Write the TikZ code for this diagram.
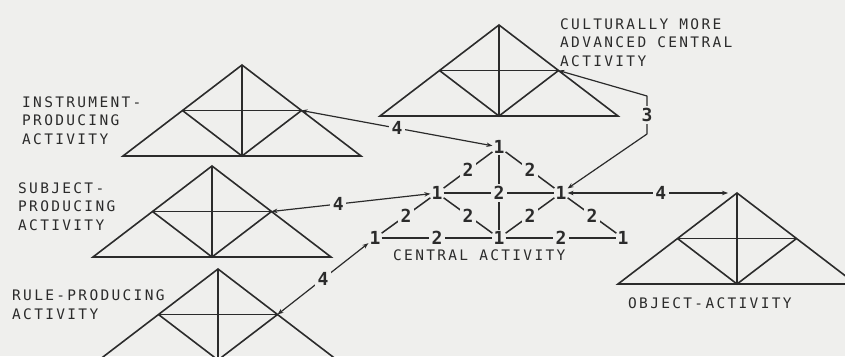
\documentclass[tikz,border=0pt]{standalone}
\usepackage{fontspec}
\usepackage{tikz}
\usetikzlibrary{positioning,arrows.meta,calc}
\definecolor{acbg}{HTML}{EFEFED}
\definecolor{acline}{HTML}{2B2B2B}
\newfontfamily\plotfont[LetterSpace=16]{DejaVu Sans Mono}
\newfontfamily\numfont{DejaVu Sans Mono}

\tikzset{
  activity/.pic={
    \draw[tri] (-119,91) -- (0,0) -- (119,91) -- cycle;
    \draw[tri] (0,0) -- (0,91);
    \draw[tri] (-59.5,45.5) coordinate (-ml) -- (59.5,45.5) coordinate (-mr);
    \draw[tri] (-ml) -- (0,91) -- (-mr);
    \coordinate (-apex) at (0,0);
  }
}

\begin{document}
\begin{tikzpicture}[
  x=1pt, y=-1pt,
  tri/.style={draw=acline, line width=1.6pt, line join=miter},
  edge/.style={draw=acline, line width=1.5pt},
  link/.style={draw=acline, line width=1.2pt, {Stealth[length=6pt,width=4.5pt]}-{Stealth[length=6pt,width=4.5pt]}},
  num/.style={font=\numfont\bfseries\fontsize{18}{18}\selectfont, text=acline, inner sep=1pt},
  lbl/.style={num, fill=acbg, inner sep=2.5pt},
  txt/.style={font=\plotfont\fontsize{14.5}{18.7}\selectfont, text=acline, align=left,
              anchor=base west, inner sep=0pt},
]
  \useasboundingbox (0,0) rectangle (845,356);
  \fill[acbg] (0,0) rectangle (845,356);
  \clip (0,0) rectangle (845,356);

  % ---- surrounding activities ------------------------------------------------
  \pic (ins)  at (242,65)  {activity};
  \pic (sub)  at (212,166) {activity};
  \pic (rule) at (218,269) {activity};
  \pic (cult) at (499,25)  {activity};
  \pic (obj)  at (737,193) {activity};

  % base anchor sits on the last line
  \node[txt] (tins)  at (22,144.5) {INSTRUMENT-\\PRODUCING\\ACTIVITY};
  \node[txt] (tsub)  at (18,230.5) {SUBJECT-\\PRODUCING\\ACTIVITY};
  \node[txt] (trule) at (12,319.5) {RULE-PRODUCING\\ACTIVITY};
  \node[txt] (tcult) at (560,66.5) {CULTURALLY MORE\\ADVANCED CENTRAL\\ACTIVITY};
  \node[txt] (tobj)  at (628,308.5) {OBJECT-ACTIVITY};

  % ---- central activity --------------------------------------------------------
  \node[num] (t)  at (499,147) {1};
  \node[num] (l)  at (437,193) {1};
  \node[num] (r)  at (561,193) {1};
  \node[num] (bl) at (375,238) {1};
  \node[num] (bm) at (499,238) {1};
  \node[num] (br) at (623,238) {1};
  \node[txt] (tcen) at (393,260.5) {CENTRAL ACTIVITY};

  \draw[edge] (t) -- (bm);
  \draw[edge] (t) -- node[lbl]{2} (l);
  \draw[edge] (t) -- node[lbl]{2} (r);
  \draw[edge] (l) -- node[lbl]{2} (r);
  \draw[edge] (l) -- node[lbl]{2} (bl);
  \draw[edge] (l) -- node[lbl]{2} (bm);
  \draw[edge] (r) -- node[lbl]{2} (bm);
  \draw[edge] (r) -- node[lbl]{2} (br);
  \draw[edge] (bl) -- node[lbl]{2} (bm);
  \draw[edge] (bm) -- node[lbl]{2} (br);

  % ---- links between activities ----------------------------------------------
  \draw[link] (ins-mr) -- node[lbl]{4} (t);
  \draw[link] (sub-mr) -- node[lbl, pos=0.42]{4} (l);
  \draw[link] (rule-mr) -- node[lbl]{4} (bl);
  \draw[link, shorten >=9pt] (r) -- node[lbl, pos=0.55]{4} (obj-apex);
  \coordinate (k1) at (647,96);
  \coordinate (k2) at (647,134);
  \draw[link, line join=round] (cult-mr) -- (k1) -- node[lbl]{3} (k2) -- (r);
\end{tikzpicture}
\end{document}
